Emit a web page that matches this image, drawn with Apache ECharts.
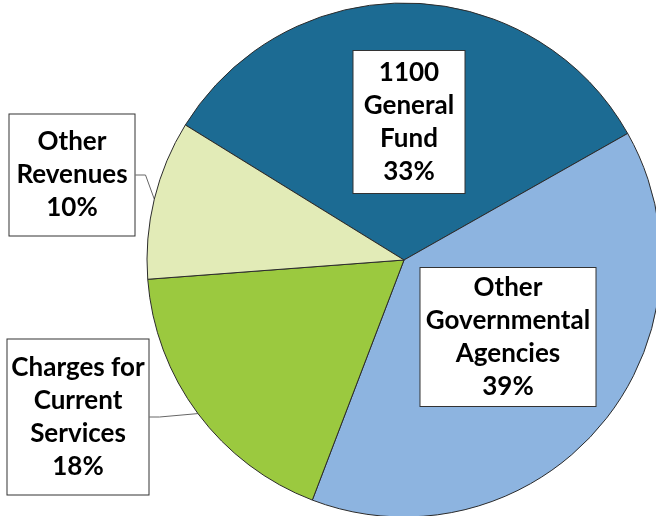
<!DOCTYPE html>
<html>
<head>
<meta charset="utf-8">
<script src="https://cdn.jsdelivr.net/npm/echarts@6/dist/echarts.min.js"></script>
<style>
  html, body { margin: 0; padding: 0; background: #fff; }
  #chart { width: 656px; height: 516px; }
</style>
</head>
<body>
<div id="chart"></div>
<script>
// slice data (clockwise from upper-left)
const categories = ['1100\nGeneral\nFund', 'Other\nGovernmental\nAgencies', 'Charges for\nCurrent\nServices', 'Other\nRevenues']
const values = [33, 39, 18, 10]
const colors = ['#1c6b93', '#8db4e0', '#9bc93f', '#e2ebb7']

// label boxes: centre x, centre y, width, height
const boxes = [
  [409, 122, 113, 144],
  [508, 337, 177, 140],
  [78, 417, 143, 157],
  [72, 175, 127, 123]
]

const LINE_H = 33

const myChart = echarts.init(document.getElementById('chart'))

const data = categories.map((name, i) => {
  const lines = name.split('\n').length + 1
  const [, , w, h] = boxes[i]
  const outside = i >= 2
  return {
    name,
    value: values[i],
    itemStyle: { color: colors[i] },
    label: {
      width: w - 2,
      padding: [(h - 2 - lines * LINE_H) / 2, 0],
      position: outside ? 'outside' : 'inside'
    },
    labelLine: { show: outside }
  }
})

const option = {
  animation: false,
  series: [
    {
      type: 'pie',
      center: [404, 260],
      radius: 257,
      startAngle: 148.3,
      clockwise: true,
      data,
      itemStyle: {
        borderColor: '#2b2b2b',
        borderWidth: 1
      },
      label: {
        show: true,
        formatter: p => p.name + '\n' + p.value + '%',
        fontFamily: 'Lato',
        fontWeight: 'bold',
        fontSize: 26,
        lineHeight: LINE_H,
        color: '#000',
        align: 'center',
        backgroundColor: '#fff',
        borderColor: '#333',
        borderWidth: 1
      },
      labelLine: {
        length: 10,
        length2: 10,
        lineStyle: { color: '#666', width: 1 }
      },
      labelLayout: params => {
        const b = boxes[params.dataIndex]
        return {
          x: b[0],
          y: b[1],
          align: 'center',
          verticalAlign: 'middle'
        }
      }
    }
  ]
}

myChart.setOption(option)
</script>
</body>
</html>
